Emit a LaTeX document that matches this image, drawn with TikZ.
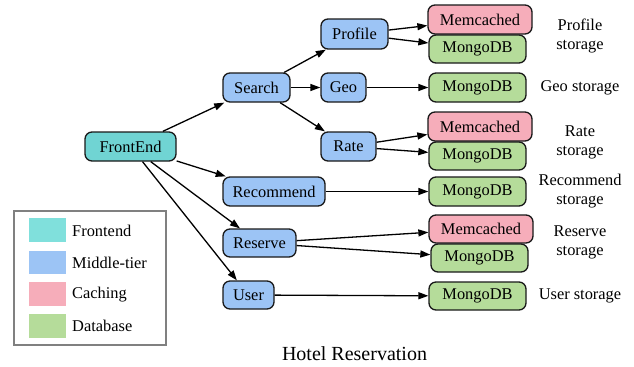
\documentclass[tikz,border=0pt]{standalone}
\usepackage{fontspec}
\setmainfont{Liberation Serif}
\usetikzlibrary{arrows.meta}
\definecolor{cfront}{HTML}{70D4D3}
\definecolor{cmid}{HTML}{9CC4F5}
\definecolor{ccache}{HTML}{F6ADBA}
\definecolor{cdb}{HTML}{B5DC9A}
\definecolor{lfront}{HTML}{80E0DC}
\begin{document}
\begin{tikzpicture}[x=1bp,y=-1bp,
  every node/.style={font=\fontsize{16.4bp}{19bp}\selectfont},
  svc/.style={draw=black!90,line width=1.3bp,rounded corners=7bp,inner sep=0pt,rectangle},
  fe/.style={svc,fill=cfront},
  mid/.style={svc,fill=cmid},
  cache/.style={svc,fill=ccache,minimum width=104bp},
  db/.style={svc,fill=cdb,minimum width=97bp},
  conn/.style={line width=1.3bp,-{Triangle[length=10bp,width=7bp]}},
  lbl/.style={align=center}]
\useasboundingbox (0,0) rectangle (634,366);
% nodes
\node[fe,minimum width=91bp,minimum height=29bp] (fe) at (130.5,146.5) {FrontEnd};
\node[mid,minimum width=67bp,minimum height=29bp] (search) at (256.5,87.5) {Search};
\node[mid,minimum width=102bp,minimum height=29bp] (rec) at (274,191.5) {Recommend};
\node[mid,minimum width=73bp,minimum height=28bp] (res) at (259.5,243) {Reserve};
\node[mid,minimum width=51bp,minimum height=28bp] (user) at (248.5,295) {User};
\node[mid,minimum width=67bp,minimum height=30bp] (prof) at (354.5,34) {Profile};
\node[mid,minimum width=45bp,minimum height=29bp] (geo) at (343.5,87.5) {Geo};
\node[mid,minimum width=55bp,minimum height=29bp] (rate) at (348.5,146.5) {Rate};
\node[cache,minimum height=29bp] (mem1) at (480,19.5) {Memcached};
\node[db,minimum height=28bp] (db1) at (477.5,49) {MongoDB};
\node[db,minimum height=29bp] (db2) at (477.5,87.5) {MongoDB};
\node[cache,minimum height=29bp] (mem3) at (480,126.5) {Memcached};
\node[db,minimum height=28bp] (db3) at (477.5,156) {MongoDB};
\node[db,minimum height=29bp] (db4) at (477.5,191.5) {MongoDB};
\node[cache,minimum height=28bp] (mem5) at (481,229) {Memcached};
\node[db,minimum height=28bp] (db5) at (479.5,258) {MongoDB};
\node[db,minimum height=28bp] (db6) at (477.5,296) {MongoDB};
% storage labels
\node[lbl] (l1) at (580,35.5) {Profile\\storage};
\node[lbl] (l2) at (580,87.5) {Geo storage};
\node[lbl] (l3) at (580,142.5) {Rate\\storage};
\node[lbl] (l4) at (580,191.5) {Recommend\\storage};
\node[lbl] (l5) at (580,242.5) {Reserve\\storage};
\node[lbl] (l6) at (580,296) {User storage};
% edges
\draw[conn] (fe) -- (search);
\draw[conn] (fe) -- (rec);
\draw[conn] (fe) -- (res);
\draw[conn] (fe) -- (user);
\draw[conn] (search) -- (prof);
\draw[conn] (search) -- (geo);
\draw[conn] (search) -- (rate);
\draw[conn] (prof) -- (mem1);
\draw[conn] (prof) -- (db1);
\draw[conn] (geo) -- (db2);
\draw[conn] (rate) -- (mem3);
\draw[conn] (rate) -- (db3);
\draw[conn] (rec) -- (db4);
\draw[conn] (res) -- (mem5);
\draw[conn] (res) -- (db5);
\draw[conn] (user) -- (db6);
% legend
\draw[draw=black!50,line width=1.3bp] (14,211) rectangle (166,345);
\fill[lfront] (29,218) rectangle (66,242);
\fill[cmid] (29,251) rectangle (66,274);
\fill[ccache] (29,282) rectangle (66,306);
\fill[cdb] (29,314) rectangle (66,338);
\node[anchor=west,inner sep=0pt] (k1) at (72,231) {Frontend};
\node[anchor=west,inner sep=0pt] (k2) at (72,263) {Middle-tier};
\node[anchor=west,inner sep=0pt] (k3) at (72,295) {Caching};
\node[anchor=west,inner sep=0pt] (k4) at (72,326) {Database};
% title
\node[font=\fontsize{20bp}{24bp}\selectfont] (title) at (354.5,354) {Hotel Reservation};
\end{tikzpicture}
\end{document}
